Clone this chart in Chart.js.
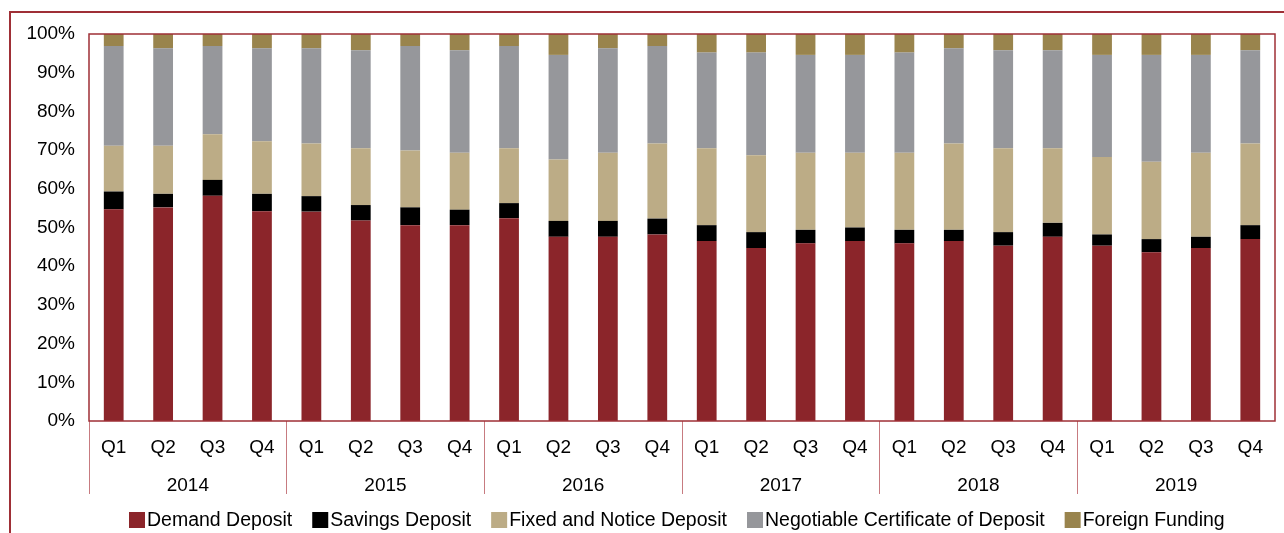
<!DOCTYPE html>
<html>
<head>
<meta charset="utf-8">
<title>Deposit composition</title>
<script src="https://cdn.jsdelivr.net/npm/chart.js@4.4.0/dist/chart.umd.min.js"></script>
<style>
  html, body { margin: 0; padding: 0; background: #fff; }
  canvas { display: block; }
</style>
</head>
<body>
<canvas id="depChart" width="1284" height="533"></canvas>
<script>
// categories
var quarters = ['Q1', 'Q2', 'Q3', 'Q4', 'Q1', 'Q2', 'Q3', 'Q4', 'Q1', 'Q2', 'Q3', 'Q4',
                'Q1', 'Q2', 'Q3', 'Q4', 'Q1', 'Q2', 'Q3', 'Q4', 'Q1', 'Q2', 'Q3', 'Q4'];
var years = ['2014', '2015', '2016', '2017', '2018', '2019'];
var yTicks = [0, 10, 20, 30, 40, 50, 60, 70, 80, 90, 100];

// series values (% of total)
var demandDeposit = [54.7, 55.2, 58.2, 54.2, 54.1, 51.8, 50.6, 50.6, 52.4, 47.6, 47.6, 48.2,
                     46.5, 44.7, 45.9, 46.5, 45.9, 46.5, 45.3, 47.6, 45.3, 43.6, 44.7, 47.0];
var savingsDeposit = [4.6, 3.5, 4.1, 4.5, 4.0, 4.0, 4.6, 4.0, 3.9, 4.1, 4.1, 4.1,
                      4.1, 4.1, 3.5, 3.5, 3.5, 2.9, 3.5, 3.6, 2.9, 3.4, 2.9, 3.6];
var fixedNotice = [11.8, 12.4, 11.8, 13.6, 13.6, 14.7, 14.7, 14.7, 14.2, 15.9, 17.6, 19.4,
                   19.9, 19.9, 19.9, 19.3, 19.9, 22.3, 21.7, 19.3, 20.0, 20.0, 21.7, 21.1];
var negotiableCD = [25.8, 25.2, 22.8, 24.0, 24.6, 25.3, 27.0, 26.5, 26.4, 27.0, 27.0, 25.2,
                    24.7, 26.5, 25.3, 25.3, 25.9, 24.6, 25.3, 25.3, 26.4, 27.6, 25.3, 24.1];
var foreignFunding = [3.1, 3.7, 3.1, 3.7, 3.7, 4.2, 3.1, 4.2, 3.1, 5.4, 3.7, 3.1,
                      4.8, 4.8, 5.4, 5.4, 4.8, 3.7, 4.2, 4.2, 5.4, 5.4, 5.4, 4.2];

var frameRed = '#9f2f36';
var sepRed = '#c77b80';
var labelFont = { family: '"Liberation Sans", Arial, sans-serif', size: 19 };

// outer frame + plot box border
var framePlugin = {
  id: 'framePlugin',
  beforeDraw: function(chart) {
    var c = chart.ctx;
    c.save();
    c.strokeStyle = frameRed;
    c.lineWidth = 2;
    c.beginPath();
    c.moveTo(10, 533);
    c.lineTo(10, 12);
    c.lineTo(1284, 12);
    c.stroke();
    c.restore();
  },
  afterDatasetsDraw: function(chart) {
    var a = chart.chartArea;
    var c = chart.ctx;
    c.save();
    c.strokeStyle = frameRed;
    c.lineWidth = 1.5;
    c.strokeRect(a.left, a.top, a.right - a.left, a.bottom - a.top);
    c.restore();
  }
};

// legend drawn by hand so the box/text spacing matches
var legendPlugin = {
  id: 'legendPlugin',
  afterDraw: function(chart) {
    var c = chart.ctx;
    var x = 129;
    var y = 520;
    c.save();
    c.font = '19.5px "Liberation Sans", Arial, sans-serif';
    c.textBaseline = 'middle';
    c.textAlign = 'left';
    chart.data.datasets.forEach(function(ds) {
      c.fillStyle = ds.backgroundColor;
      c.fillRect(x, y - 8, 16, 16);
      c.fillStyle = '#000';
      c.fillText(ds.label, x + 18, y + 1);
      x += 18 + c.measureText(ds.label).width + 20;
    });
    c.restore();
  }
};

var ctx = document.getElementById('depChart').getContext('2d');
var chart = new Chart(ctx, {
  type: 'bar',
  data: {
    labels: quarters,
    datasets: [
      { label: 'Demand Deposit', data: demandDeposit, backgroundColor: '#8b252a' },
      { label: 'Savings Deposit', data: savingsDeposit, backgroundColor: '#000000' },
      { label: 'Fixed and Notice Deposit', data: fixedNotice, backgroundColor: '#bcac86' },
      { label: 'Negotiable Certificate of Deposit', data: negotiableCD, backgroundColor: '#96979b' },
      { label: 'Foreign Funding', data: foreignFunding, backgroundColor: '#99844d' }
    ]
  },
  options: {
    responsive: false,
    animation: false,
    devicePixelRatio: 1,
    layout: { padding: { left: 10, right: 9, top: 34, bottom: 37 } },
    datasets: {
      bar: { barPercentage: 0.4, categoryPercentage: 1.0, borderWidth: 0 }
    },
    plugins: {
      legend: { display: false },
      tooltip: { enabled: false },
      title: { display: false }
    },
    scales: {
      x: {
        stacked: true,
        offset: true,
        grid: {
          offset: true,
          drawOnChartArea: false,
          tickLength: 73,
          lineWidth: 1,
          color: function(c) { return c.index % 4 === 0 ? sepRed : 'rgba(0,0,0,0)'; }
        },
        border: { display: false },
        ticks: { font: labelFont, color: '#000', padding: -58, autoSkip: false, maxRotation: 0 },
        afterFit: function(s) { s.height = 37; }
      },
      year: {
        type: 'category',
        labels: years,
        position: 'bottom',
        offset: true,
        grid: { display: false, drawTicks: false },
        border: { display: false },
        ticks: { font: labelFont, color: '#000', padding: 16, autoSkip: false, maxRotation: 0 },
        afterFit: function(s) { s.height = 38; }
      },
      y: {
        stacked: true,
        min: 0,
        max: 100,
        grid: { display: false, drawTicks: false },
        border: { display: false },
        afterBuildTicks: function(s) { s.ticks = yTicks.map(function(v) { return { value: v }; }); },
        afterFit: function(s) { s.width = 79; },
        ticks: {
          font: labelFont,
          color: '#000',
          padding: 14,
          callback: function(v) { return v + '%'; }
        }
      }
    }
  },
  plugins: [framePlugin, legendPlugin]
});
</script>
</body>
</html>
